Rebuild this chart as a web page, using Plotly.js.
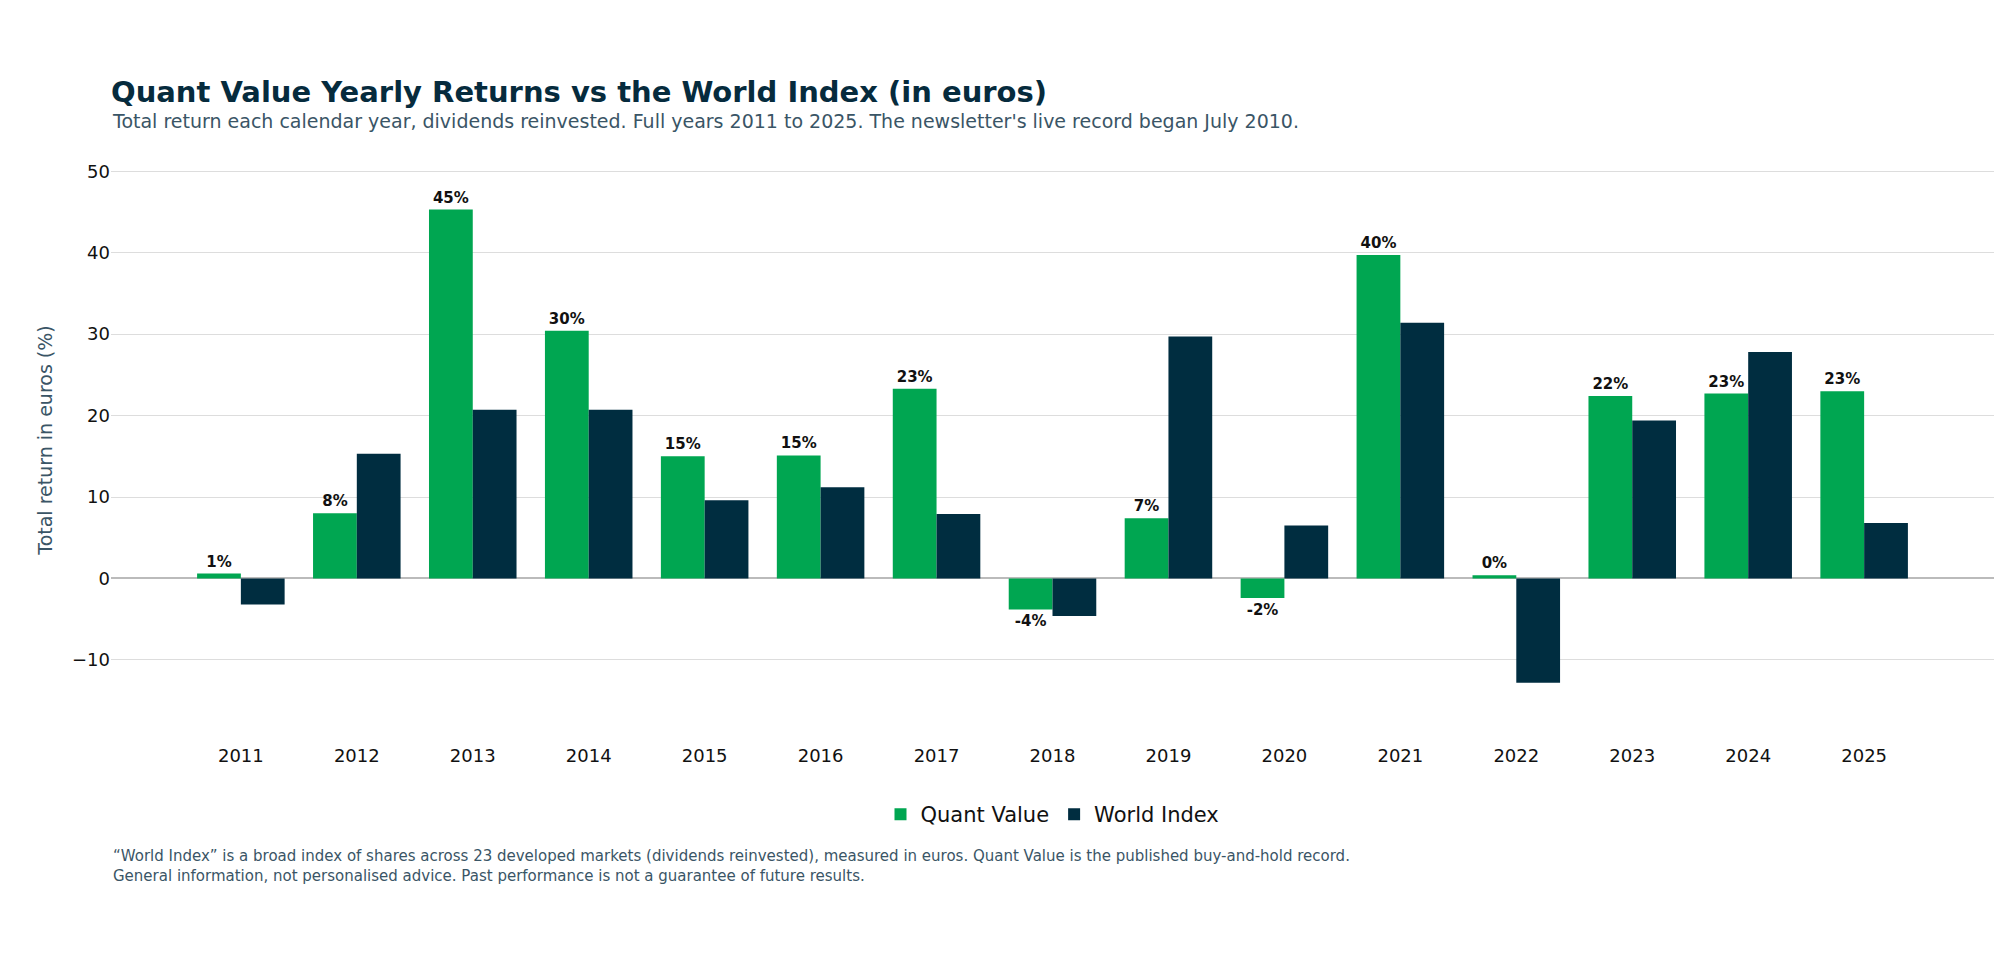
<!DOCTYPE html>
<html><head><meta charset="utf-8">
<script src="https://cdn.plot.ly/plotly-3.0.1.min.js"></script>
<style>body{margin:0;background:#fff}#chart{width:2015px;height:962px}</style>
</head><body><div id="chart"></div>
<script>
const years = ["2011","2012","2013","2014","2015","2016","2017","2018","2019","2020","2021","2022","2023","2024","2025"];
const quantValue = [0.6, 8.0, 45.3, 30.4, 15.0, 15.1, 23.3, -3.8, 7.4, -2.4, 39.7, 0.4, 22.4, 22.7, 23.0];
const worldIndex = [-3.2, 15.3, 20.7, 20.7, 9.6, 11.2, 7.9, -4.6, 29.7, 6.5, 31.4, -12.8, 19.4, 27.8, 6.8];

const font = "DejaVu Sans, sans-serif";
const traces = [
  {
    x: years, y: quantValue, type: "bar", name: "Quant Value",
    marker: { color: "#00a651" },
    text: quantValue.map(v => Math.round(v) + "%"),
    textposition: "outside", cliponaxis: false,
    textfont: { family: font, size: 15, color: "#111", weight: "bold" },
  },
  {
    x: years, y: worldIndex, type: "bar", name: "World Index",
    marker: { color: "#002d40" },
  },
];

const layout = {
  width: 2015, height: 962,
  font: { family: font, color: "#0a1f2b" },
  barmode: "group", bargap: 0.245, bargroupgap: 0,
  margin: { l: 111, r: 21, t: 159, b: 241 },
  title: {
    text: "<b>Quant Value Yearly Returns vs the World Index (in euros)</b>",
    font: { size: 29, color: "#062b3d" },
    x: 111 / 2015, xref: "container", xanchor: "left",
    y: 1 - 92 / 962, yref: "container", yanchor: "middle",
  },
  xaxis: {
    type: "category", range: [-1.12, 15.12],
    tickfont: { size: 18, color: "#111" }, ticks: "", showline: false,
    ticklabelstandoff: 22,
  },
  yaxis: {
    range: [-17.5, 51.5], dtick: 10, gridcolor: "#dddddd",
    zeroline: true, zerolinecolor: "#bbbbbb", zerolinewidth: 1.5,
    tickfont: { size: 18, color: "#111" },
    title: { text: "Total return in euros (%)", font: { size: 19, color: "#3a5566" }, standoff: 14 },
  },
  legend: {
    orientation: "h", x: 0.5, xanchor: "center", y: -0.13, yanchor: "top",
    font: { size: 21, color: "#111" },
  },
  annotations: [
    {
      text: "Total return each calendar year, dividends reinvested. Full years 2011 to 2025. The newsletter's live record began July 2010.",
      xref: "paper", yref: "paper", x: -0.0005, y: 1.068, xanchor: "left", yanchor: "middle",
      showarrow: false, font: { size: 19, color: "#3a5566" },
    },
    {
      text: "“World Index” is a broad index of shares across 23 developed markets (dividends reinvested), measured in euros. Quant Value is the published buy-and-hold record.<br>General information, not personalised advice. Past performance is not a guarantee of future results.",
      xref: "paper", yref: "paper", x: 0, y: -0.22, xanchor: "left", yanchor: "top", align: "left",
      showarrow: false, font: { size: 15, color: "#3a5566" },
    },
  ],
  plot_bgcolor: "#fff", paper_bgcolor: "#fff",
};

Plotly.newPlot("chart", traces, layout, { displayModeBar: false });
</script></body></html>
